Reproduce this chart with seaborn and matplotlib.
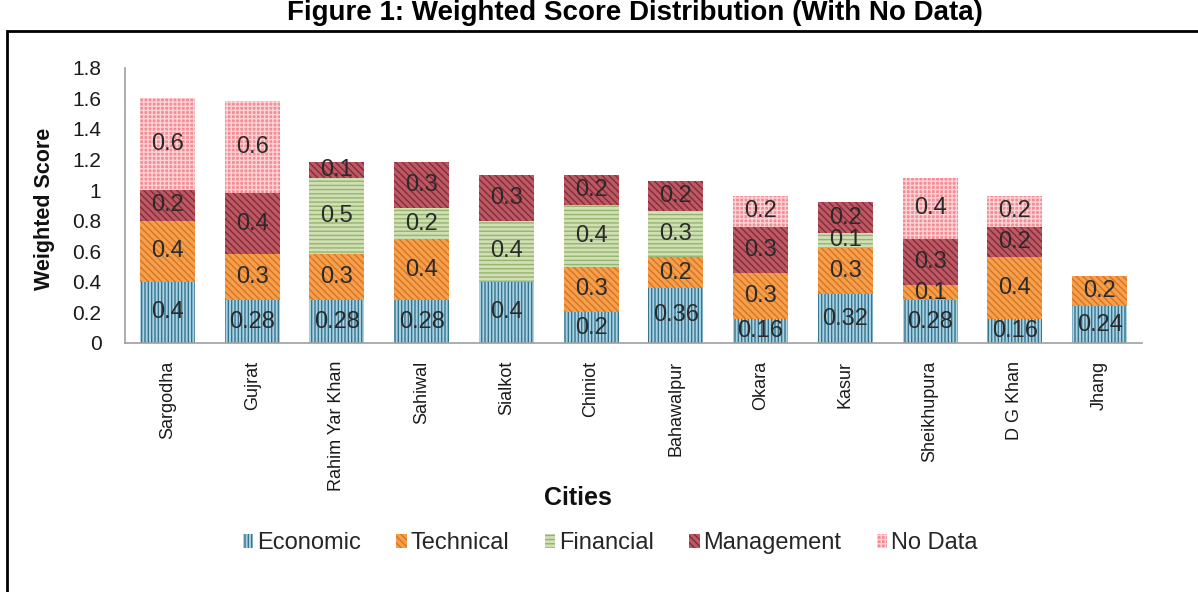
import numpy as np
import pandas as pd
import matplotlib
matplotlib.use("Agg")
import matplotlib.pyplot as plt
import seaborn as sns
from matplotlib.patches import Rectangle, Patch
from matplotlib.ticker import FuncFormatter

cities = ["Sargodha", "Gujrat", "Rahim Yar Khan", "Sahiwal", "Sialkot", "Chiniot",
          "Bahawalpur", "Okara", "Kasur", "Sheikhupura", "D G Khan", "Jhang"]
economic   = [0.40, 0.28, 0.28, 0.28, 0.40, 0.20, 0.36, 0.16, 0.32, 0.28, 0.16, 0.24]
technical  = [0.40, 0.30, 0.30, 0.40, 0.00, 0.30, 0.20, 0.30, 0.30, 0.10, 0.40, 0.20]
financial  = [0.00, 0.00, 0.50, 0.20, 0.40, 0.40, 0.30, 0.00, 0.10, 0.00, 0.00, 0.00]
management = [0.20, 0.40, 0.10, 0.30, 0.30, 0.20, 0.20, 0.30, 0.20, 0.30, 0.20, 0.00]
no_data    = [0.60, 0.60, 0.00, 0.00, 0.00, 0.00, 0.00, 0.20, 0.00, 0.40, 0.20, 0.00]
series_names = ["Economic", "Technical", "Financial", "Management", "No Data"]
y_ticks = [0, 0.2, 0.4, 0.6, 0.8, 1.0, 1.2, 1.4, 1.6, 1.8]

series_vals = [economic, technical, financial, management, no_data]
styles = {
    "Economic":   dict(face="#a9d3e4", hatch="|||||", ec="#37748d"),
    "Technical":  dict(face="#f5a04c", hatch="\\\\\\\\\\", ec="#d87422"),
    "Financial":  dict(face="#cfe0b3", hatch="----", ec="#98b271"),
    "Management": dict(face="#bb5a63", hatch="\\\\\\\\\\", ec="#87293a"),
    "No Data":    dict(face="#f28d95", hatch="++++", ec="#ffd3d6"),
}

sns.set_theme(style="white")
plt.rcParams["font.family"] = ["Liberation Sans", "DejaVu Sans"]
plt.rcParams["hatch.linewidth"] = 1.0

fig = plt.figure(figsize=(11.98, 5.92), dpi=100)
ax = fig.add_axes([125 / 1198, 1 - 343 / 592, (1142 - 125) / 1198, (343 - 67.6) / 592])

df = pd.DataFrame({"City": cities})
cum = np.zeros(len(cities))
cums = []
for name, vals in zip(series_names, series_vals):
    bottom = cum.copy()
    cum = cum + np.array(vals)
    cums.append((name, bottom, cum.copy(), vals))

# draw cumulative totals from the top layer down so lower layers cover them
for name, bottom, top, vals in reversed(cums):
    st = styles[name]
    d = df.copy()
    d["top"] = top
    sns.barplot(data=d, x="City", y="top", color=st["face"], saturation=1,
                width=0.65, hatch=st["hatch"], edgecolor=st["ec"], linewidth=0,
                ax=ax, errorbar=None)

# segment value labels
for name, bottom, top, vals in cums:
    for i, v in enumerate(vals):
        if v > 0:
            ax.text(i, bottom[i] + v / 2, f"{v:g}", ha="center", va="center",
                    fontsize=17, color="#2a2a2a")

ax.set_ylim(0, 1.8)
ax.set_xlim(-0.5, len(cities) - 0.5)
ax.set_yticks(y_ticks)
ax.yaxis.set_major_formatter(FuncFormatter(lambda v, p: f"{v:g}"))
ax.tick_params(axis="y", length=0, pad=17, labelsize=15, labelcolor="#1a1a1a")
ax.tick_params(axis="x", length=0, pad=13, labelsize=13, labelcolor="#1a1a1a")
for lab in ax.get_xticklabels():
    lab.set_rotation(90)
    lab.set_va("top")
    lab.set_ha("center")

for s in ["top", "right"]:
    ax.spines[s].set_visible(False)
for s in ["left", "bottom"]:
    ax.spines[s].set_color("#a0a0a0")
    ax.spines[s].set_linewidth(1.2)

ax.set_ylabel("Weighted Score", fontsize=15.5, fontweight="bold", color="#111111")
ax.yaxis.set_label_coords(-0.069, 0.487)
ax.set_xlabel("Cities", fontsize=18, fontweight="bold", color="#111111")
ax.xaxis.set_label_coords(0.445, -0.52)

handles = [Patch(facecolor=styles[n]["face"], hatch=styles[n]["hatch"],
                 edgecolor=styles[n]["ec"], linewidth=0, label=n) for n in series_names]
fig.legend(handles=handles, loc="center", bbox_to_anchor=(610 / 1198, 1 - 543 / 592),
           ncol=5, frameon=False, fontsize=17, handlelength=0.45, handleheight=0.55,
           handletextpad=0.15, columnspacing=1.5)

fig.text(635 / 1198, 1 - 20 / 592, "Figure 1: Weighted Score Distribution (With No Data)",
         ha="center", va="baseline", fontsize=20, fontweight="bold", color="#000000")

fig.patches.append(Rectangle((7 / 1198, -0.2), 1.2, 0.2 + (1 - 31 / 592),
                             transform=fig.transFigure, fill=False,
                             edgecolor="black", linewidth=2))

fig.savefig("out.png", dpi=100)
